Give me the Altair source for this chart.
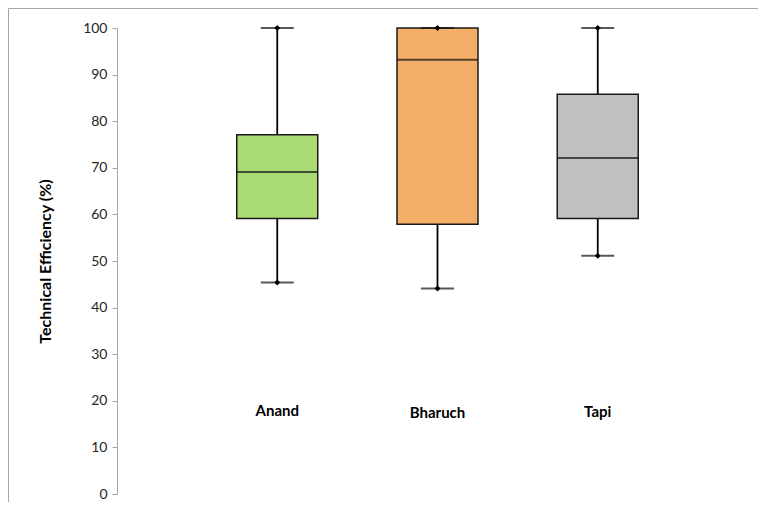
import altair as alt
import pandas as pd

categories = ["Anand", "Bharuch", "Tapi"]
mins = [45.4, 44.1, 51.1]
q1s = [59.1, 57.9, 59.1]
medians = [69.1, 93.2, 72.1]
q3s = [77.1, 100.0, 85.8]
maxs = [100.0, 100.0, 100.0]
label_y = [17.8, 17.4, 17.6]
colors = ["#A9DA74", "#F4AE68", "#C0C0C0"]
y_ticks = [0, 10, 20, 30, 40, 50, 60, 70, 80, 90, 100]

df = pd.DataFrame({
    "district": categories,
    "min": mins,
    "q1": q1s,
    "median": medians,
    "q3": q3s,
    "max": maxs,
    "label_y": label_y,
})

FONT = "Lato"
W, H = 641, 466

x = alt.X("district:N", scale=alt.Scale(type="point", padding=1, domain=categories), axis=None)
y_scale = alt.Scale(domain=[0, 100], nice=False)

base = alt.Chart(df)

whisker = base.mark_rule(color="black", strokeWidth=1.8).encode(
    x=x,
    y=alt.Y("min:Q", scale=y_scale, axis=alt.Axis(
        values=y_ticks, title="Technical Efficiency (%)", grid=False,
        domainColor="#a6a6a6", tickColor="#a6a6a6", tickSize=5, labelPadding=5,
        labelFont=FONT, labelFontSize=14, labelColor="#262626",
        titleFont=FONT, titleFontSize=16, titleFontWeight="bold", titleColor="#000000",
        titleX=-72, titleBaseline="middle")),
    y2="max:Q",
)

box = base.mark_bar(size=81, stroke="#1a1a1a", strokeWidth=1.5).encode(
    x=x,
    y=alt.Y("q1:Q", scale=y_scale),
    y2="q3:Q",
    color=alt.Color("district:N", scale=alt.Scale(domain=categories, range=colors), legend=None),
)

median = base.mark_tick(size=81, thickness=2, color="#111111", orient="horizontal").encode(
    x=x, y=alt.Y("median:Q", scale=y_scale)
)

ends = base.transform_fold(["min", "max"], as_=["stat", "val"])

caps = ends.mark_tick(size=33, thickness=2, color="#111111", orient="horizontal").encode(
    x=x, y=alt.Y("val:Q", scale=y_scale)
)

dots = ends.mark_point(shape="diamond", filled=True, size=35, color="black", opacity=1).encode(
    x=x, y=alt.Y("val:Q", scale=y_scale)
)

labels = base.mark_text(font=FONT, fontSize=15, fontWeight="bold", color="#000000", baseline="middle").encode(
    x=x, y=alt.Y("label_y:Q", scale=y_scale), text="district:N"
)

frame_df = pd.DataFrame({"f": [0]})
frame_top = alt.Chart(frame_df).mark_rule(color="#a6a6a6", strokeWidth=1).encode(
    x=alt.value(-108.5), x2=alt.value(W), y=alt.value(-19.5)
)
frame_left = alt.Chart(frame_df).mark_rule(color="#a6a6a6", strokeWidth=1).encode(
    x=alt.value(-108.5), y=alt.value(-19.5), y2=alt.value(H + 8)
)

chart = alt.layer(frame_top, frame_left, whisker, box, median, caps, dots, labels).properties(
    width=W, height=H,
    padding={"left": 109, "top": 20, "right": 0, "bottom": 8},
    autosize="none",
).configure_view(stroke=None)

chart.save("out.html", embed_options={"renderer": "svg", "actions": False})
